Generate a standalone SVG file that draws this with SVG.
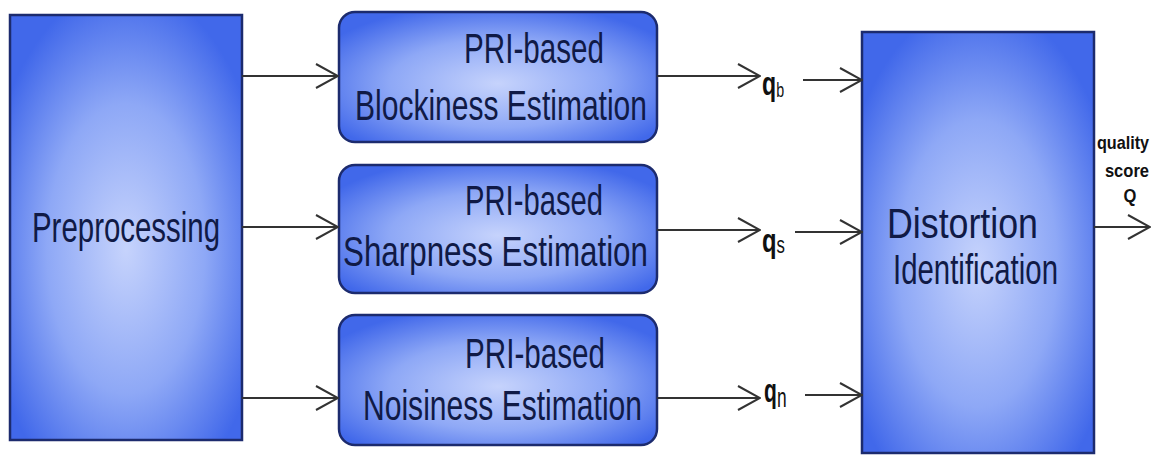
<svg xmlns="http://www.w3.org/2000/svg" width="1153" height="455" viewBox="0 0 1153 455">
  <defs>
    <radialGradient id="g" cx="0.5" cy="0.55" r="0.62">
      <stop offset="0" stop-color="#c6d3fc"/>
      <stop offset="0.55" stop-color="#8ea8f6"/>
      <stop offset="1" stop-color="#4168ea"/>
    </radialGradient>
    <marker id="ah" viewBox="0 0 24 26" refX="23" refY="13" markerWidth="24" markerHeight="26" markerUnits="userSpaceOnUse" orient="auto">
      <path d="M1,1 L23,13 L1,25" fill="none" stroke="#333" stroke-width="2"/>
    </marker>
  </defs>
  <style>
    .box{fill:url(#g);stroke:#1c2b6e;stroke-width:2.5}
    .t{font-family:"Liberation Sans",Arial,sans-serif;font-size:42px;fill:#101a46}
    .c{fill:none;stroke:#333;stroke-width:2.2;marker-end:url(#ah)}
    .q{font-family:"Liberation Sans",Arial,sans-serif;font-weight:bold;font-size:34px;fill:#111}
    .sub{font-weight:normal}
    .o{font-family:"Liberation Sans",Arial,sans-serif;font-weight:bold;font-size:18px;fill:#111;text-anchor:middle}
  </style>
  <rect width="1153" height="455" fill="#ffffff"/>

  <g id="preprocessing">
    <rect class="box" x="10" y="15" width="232" height="425"/>
    <text class="t" x="32" y="242" textLength="188" lengthAdjust="spacingAndGlyphs">Preprocessing</text>
  </g>

  <g id="blockiness">
    <rect class="box" x="339" y="12" width="318" height="130" rx="16"/>
    <text class="t" x="464" y="63" textLength="140" lengthAdjust="spacingAndGlyphs">PRI-based</text>
    <text class="t" x="355" y="120" textLength="292" lengthAdjust="spacingAndGlyphs">Blockiness Estimation</text>
  </g>

  <g id="sharpness">
    <rect class="box" x="339" y="165" width="318" height="128" rx="16"/>
    <text class="t" x="465" y="215" textLength="138" lengthAdjust="spacingAndGlyphs">PRI-based</text>
    <text class="t" x="343" y="266" textLength="305" lengthAdjust="spacingAndGlyphs">Sharpness Estimation</text>
  </g>

  <g id="noisiness">
    <rect class="box" x="339" y="315" width="318" height="130" rx="16"/>
    <text class="t" x="465" y="368" textLength="140" lengthAdjust="spacingAndGlyphs">PRI-based</text>
    <text class="t" x="363" y="420" textLength="279" lengthAdjust="spacingAndGlyphs">Noisiness Estimation</text>
  </g>

  <g id="distortion">
    <rect class="box" x="862" y="32" width="232" height="421"/>
    <text class="t" x="887" y="238" textLength="151" lengthAdjust="spacingAndGlyphs">Distortion</text>
    <text class="t" x="893" y="284" textLength="165" lengthAdjust="spacingAndGlyphs">Identification</text>
  </g>

  <g id="connectors">
    <path class="c" d="M242,76 H338"/>
    <path class="c" d="M242,227 H338"/>
    <path class="c" d="M242,398 H338"/>
    <path class="c" d="M657,76 H760"/>
    <path class="c" d="M657,230 H760"/>
    <path class="c" d="M657,398 H760"/>
    <path class="c" d="M803,80 H862"/>
    <path class="c" d="M795,232 H862"/>
    <path class="c" d="M805,395 H862"/>
    <path class="c" d="M1094,227 H1150"/>
  </g>

  <g id="labels">
    <text class="q" transform="translate(762,95) scale(0.68,1)">q<tspan class="sub" font-size="21" dy="2">b</tspan></text>
    <text class="q" transform="translate(762,252) scale(0.7,1)">q<tspan class="sub" font-size="24" dy="1">s</tspan></text>
    <text class="q" transform="translate(764,402) scale(0.62,1)">q<tspan class="sub" font-size="28" dy="5">n</tspan></text>
    <text class="o" transform="translate(1123,149) scale(0.9,1)">quality</text>
    <text class="o" transform="translate(1127,177) scale(0.92,1)">score</text>
    <text class="o" transform="translate(1130,202) scale(0.92,1)">Q</text>
  </g>
</svg>
